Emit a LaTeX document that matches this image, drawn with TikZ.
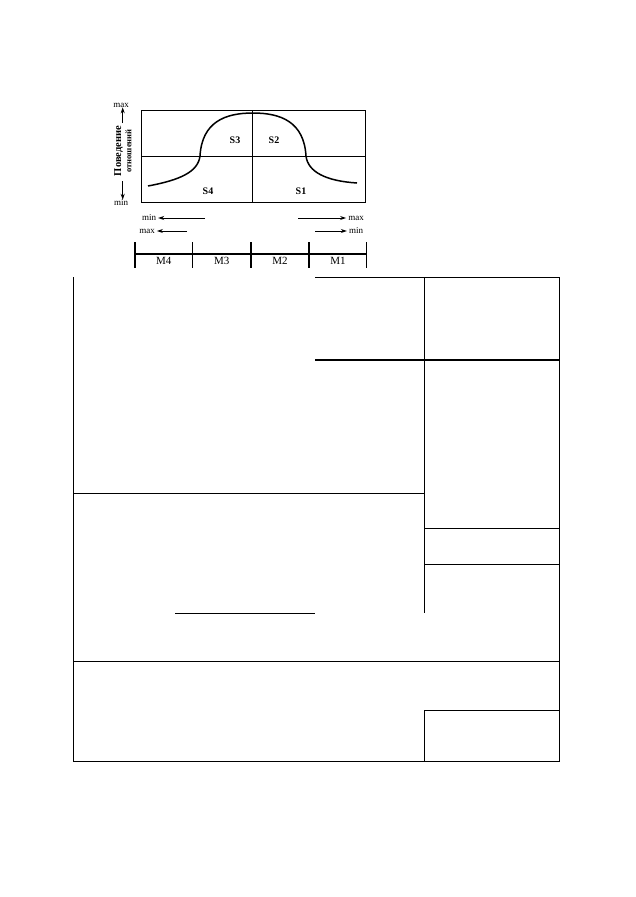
\documentclass[tikz,border=0pt]{standalone}
\usepackage{fontspec}
\setmainfont{Liberation Serif}
\usetikzlibrary{arrows.meta}

\begin{document}
\begin{tikzpicture}[x=1pt,y=-1pt,
    frame/.style={line width=1.3pt},
    plotline/.style={line width=1pt},
    arr/.style={line width=0.9pt,-{Stealth[length=6pt,width=4pt]}},
    tiny/.style={inner sep=0pt,font=\fontsize{9}{9}\selectfont},
    sector/.style={inner sep=0pt,font=\bfseries\fontsize{10}{10}\selectfont},
    mark label/.style={inner sep=0pt,font=\fontsize{11}{11}\selectfont}]
    \useasboundingbox (0,0) rectangle (636,897);

    % draw graph box
    \draw[plotline] (141.7,110) rectangle (365.7,202);
    \draw[plotline] (252.7,110) -- (252.7,202);
    \draw[plotline] (141.7,156) -- (365.7,156);

    % draw curve
    \draw[line width=1.5pt] (148,186) .. controls (180,180) and (198,172) .. (200,156)
        .. controls (202,122) and (225,113) .. (253,113)
        .. controls (281,113) and (304,122) .. (306,156)
        .. controls (308,172) and (326,181) .. (357,183);

    % draw sector labels
    \node[sector] (s3) at (235,140) {S3};
    \node[sector] (s2) at (274,140) {S2};
    \node[sector] (s4) at (208,191) {S4};
    \node[sector] (s1) at (301,191) {S1};

    % draw vertical axis
    \node[tiny] (ymax) at (121,105) {max};
    \node[tiny] (ymin) at (121,203) {min};
    \coordinate (yup) at (122.7,123);
    \coordinate (ydown) at (122.7,181);
    \draw[arr] (yup) -- (ymax.south -| yup);
    \draw[arr] (ydown) -- (ymin.north -| ydown);
    \node[rotate=90,inner sep=0pt,font=\bfseries\fontsize{10.5}{10}\selectfont] (beh) at (118.5,151) {Поведение};
    \node[rotate=90,inner sep=0pt,font=\bfseries\fontsize{8.5}{9}\selectfont] (rel) at (128.5,151) {отношений};

    % draw direction arrows
    \node[tiny] (lmin) at (149,218) {min};
    \node[tiny] (lmax) at (147,231) {max};
    \node[tiny] (rmax) at (356,218) {max};
    \node[tiny] (rmin) at (356,231) {min};
    \coordinate (lminfrom) at (205,218);
    \coordinate (lmaxfrom) at (187,231);
    \coordinate (rmaxfrom) at (298,218);
    \coordinate (rminfrom) at (315,231);
    \draw[arr] (lminfrom) -- ([xshift=2pt]lmin.east);
    \draw[arr] (lmaxfrom) -- ([xshift=2pt]lmax.east);
    \draw[arr] (rmaxfrom) -- ([xshift=-2pt]rmax.west);
    \draw[arr] (rminfrom) -- ([xshift=-2pt]rmin.west);

    % draw scale
    \draw[frame] (135,254) -- (366.7,254);
    \foreach \x in {135,192.7,251,309,366.7}
        \draw[frame] (\x,242) -- (\x,268);
    \node[mark label] (m4) at (163.8,261) {M4};
    \node[mark label] (m3) at (221.8,261) {M3};
    \node[mark label] (m2) at (280,261) {M2};
    \node[mark label] (m1) at (338,261) {M1};

    % draw frame lines
    \draw[frame] (73.3,277.3) -- (73.3,761.3) -- (559.3,761.3) -- (559.3,277.3) -- (315,277.3);
    \draw[frame] (424.3,277.3) -- (424.3,612.7);
    \draw[frame] (315,360) -- (559.3,360);
    \draw[frame] (73.3,493.3) -- (424.3,493.3);
    \draw[frame] (424.3,528.3) -- (559.3,528.3);
    \draw[frame] (424.3,564.3) -- (559.3,564.3);
    \draw[frame] (175,613.3) -- (315,613.3);
    \draw[frame] (73.3,661.3) -- (559.3,661.3);
    \draw[frame] (424.3,710.7) -- (559.3,710.7);
    \draw[frame] (424.3,710.7) -- (424.3,761.3);
\end{tikzpicture}
\end{document}
